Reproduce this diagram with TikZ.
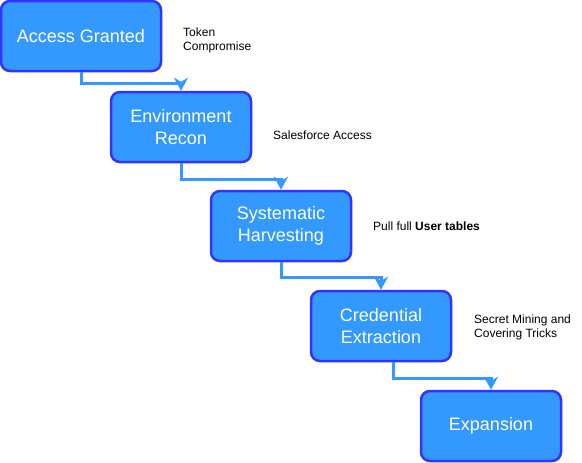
\documentclass[tikz,border=0pt]{standalone}
\usepackage{fontspec}
\setmainfont{Liberation Sans}
\usetikzlibrary{arrows.meta}
\definecolor{stepFill}{RGB}{51, 153, 255}
\definecolor{stepLine}{RGB}{51, 51, 255}
\definecolor{flowBlue}{RGB}{51, 153, 255}

\begin{document}
\begin{tikzpicture}[x=1pt, y=-1pt,
    stepbox/.style={draw=stepLine, fill=stepFill, line width=2.5pt, rounded corners=9pt,
      minimum width=140pt, minimum height=70pt, text=white, align=center,
      font=\fontsize{18pt}{21.5pt}\selectfont},
    note/.style={anchor=west, align=left, inner sep=0pt,
      font=\fontsize{12pt}{14pt}\selectfont},
    flow/.style={draw=flowBlue, line width=3pt,
      -{Stealth[length=13pt, width=14pt, inset=4pt]}}]
  \useasboundingbox (0,0) rectangle (582,463);

  % steps
  \node[stepbox, minimum width=160pt] (granted) at (81,36) {Access Granted};
  \node[stepbox] (recon) at (181,127) {Environment\\Recon};
  \node[stepbox] (harvest) at (281,226) {Systematic\\Harvesting};
  \node[stepbox] (extract) at (381,326) {Credential\\Extraction};
  \node[stepbox] (expand) at (491,426) {Expansion};

  % side notes
  \node[note] (n1) at (183,40) {Token\\Compromise};
  \node[note] (n2) at (273,135) {Salesforce Access};
  \node[note] (n3) at (373,226) {Pull full \textbf{User tables}};
  \node[note] (n4) at (474,327) {Secret Mining and\\Covering Tricks};

  % connectors
  \draw[flow] (granted.south) -- ++(0,11) -| (recon.north);
  \draw[flow] (recon.south) -- ++(0,16) -| (harvest.north);
  \draw[flow] (harvest.south) -- ++(0,15) -| (extract.north);
  \draw[flow] ([xshift=12pt]extract.south) -- ++(0,16) -| (expand.north);
\end{tikzpicture}
\end{document}
